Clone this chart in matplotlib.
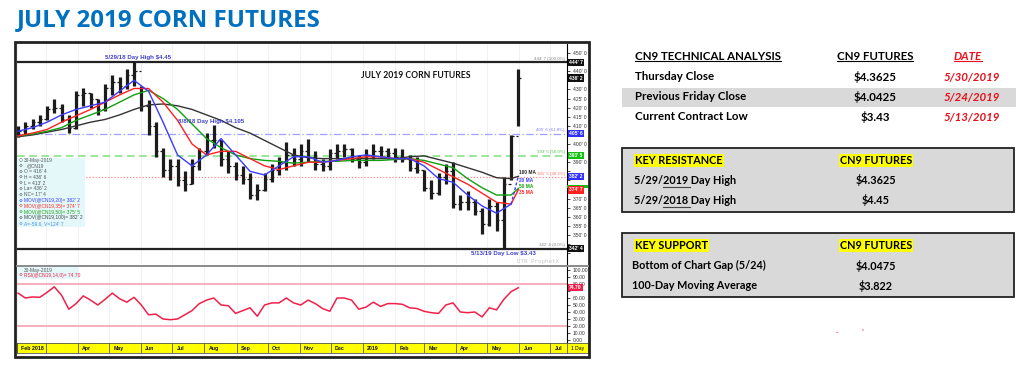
import numpy as np
import pandas as pd
import matplotlib
matplotlib.use("Agg")
import matplotlib.pyplot as plt
import matplotlib.transforms as mtransforms
from matplotlib.patches import Rectangle
from matplotlib.lines import Line2D

W, H = 1024, 366

# ---- data (July 2019 corn, cents/bu, weekly bars) ----
week_end = pd.date_range("2018-02-02", "2019-05-31", freq="W-FRI")

highs = [410, 412, 414, 416, 421, 425, 422, 416, 429, 431,
         428, 425, 433, 438, 437, 441, 445, 432, 424, 412,
         398, 392, 392, 385, 392, 398, 406, 410.5, 402, 396,
         390, 388, 384, 378, 384, 389, 393, 401, 398, 400,
         403, 396, 392, 397, 400, 400, 398, 394, 397, 400,
         399, 398, 398, 397, 394, 393, 386, 380, 384, 389,
         390, 372, 374, 370, 365, 370, 368, 382, 404.75, 441]
lows = [404, 405, 408, 410, 413, 417, 412, 406, 408, 421,
        420, 416, 418, 427, 428, 430, 432, 418, 405, 393,
        382, 380, 377, 374, 378, 386, 394, 398, 388, 384,
        380, 378, 370, 369.5, 374, 379, 383, 386, 388, 388,
        390, 386, 385, 386, 392, 393, 390, 387, 388, 392,
        393, 392, 390, 390, 385, 384, 374, 370, 372, 378,
        365, 364, 364, 361, 350.5, 355, 352, 342.5, 380, 410]
closes = [407, 410, 412, 414, 419, 420, 414, 409, 427, 428,
          425, 419, 431, 434, 432, 438, 440, 421, 410, 396,
          386, 388, 380, 378, 388, 396, 402, 402, 392, 388,
          383, 381, 372, 375, 381, 386, 390, 394, 392, 396,
          393, 389, 388, 395, 396, 397, 392, 390, 394, 396,
          396, 395, 393, 392, 387, 386, 376, 373, 382, 385,
          367, 368, 368, 363, 356, 366, 358, 378, 404.25, 436.25]

# moving averages, read every other week plus the last bar
ma_dates = week_end[::2].append(week_end[-1:])
ma20 = [407, 409, 412, 416, 419, 421, 423, 429, 435, 429, 412, 394, 388, 394, 403, 394,
        385, 383, 388, 393, 393, 390, 391, 393, 394, 393, 392, 392, 388, 381, 379, 372,
        366, 362, 367, 382.25]
ma35 = [404.5, 406, 408, 412, 415.5, 419, 423, 427, 430.5, 430.5, 423, 413, 400, 394, 396,
        396, 392, 388, 386, 388, 390, 390, 391, 392, 393, 393, 392, 392, 390, 386, 382, 378,
        373, 368, 367, 374.875]
ma50 = [404.5, 405.5, 407, 409, 413, 416, 419, 423, 427, 429.5, 425, 419, 411, 403, 398, 394,
        392, 391, 390.5, 389.5, 390, 390.5, 390.5, 391, 391, 391, 391.5, 392, 391, 389, 387,
        381, 376, 372, 372, 375.625]
ma100 = [404, 405, 406.5, 408, 410, 412, 413.5, 416, 419, 421.5, 422, 421, 419, 416, 413, 409,
         406, 402, 398, 394, 392.5, 392, 392, 392, 392, 392, 392, 393, 393.5, 391.5, 389.5,
         387, 384.5, 381.5, 381, 382.25]

rsi = [67, 60, 61.5, 61, 68, 76, 64, 44, 52, 63,
       57, 50, 58, 67, 59, 54, 61, 50, 36, 37,
       30, 29, 30, 36, 42, 52, 57, 60, 50, 49,
       38, 42, 46, 34, 50, 53, 53, 60, 53, 50,
       57, 52, 45, 41, 60, 60, 57, 44, 47, 54,
       48, 52, 52, 51, 46, 45, 41, 39, 38, 50,
       53, 40, 39, 40, 33, 46, 43, 58, 69, 74.7]

fib_levels = [444.875, 405.75, 393.625, 381.625, 342.5]
fib_labels = ["444' 7 (100.0%)", "405' 6 (61.8%)", "393' 5 (50.0%)", "381' 5 (38.2%)", "342' 4 (0.0%)"]

month_starts = pd.date_range("2018-02-01", "2019-07-01", freq="MS")
month_labels = ["Feb 2018", "", "Apr", "May", "Jun", "Jul", "Aug", "Sep", "Oct", "Nov", "Dec",
                "2019", "Feb", "Mar", "Apr", "May", "Jun", "Jul"]

info_lines = ["30-May-2019", "@CN19", "O = 416' 4", "H = 436' 6", "L = 413' 2", "La= 436' 2",
              "NC= 17' 4", "MOV(@CN19,20)= 382' 2", "MOV(@CN19,35)= 374' 7",
              "MOV(@CN19,50)= 375' 5", "MOV(@CN19,100)= 382' 2", "A=-59.6, V=124' 7"]
info_colors = ["#555555", "#555555", "#555555", "#555555", "#555555", "#555555", "#555555",
               "#3b3bff", "#ff2a2a", "#1aa01a", "#444444", "#4a90e2"]

tech_rows = [("Thursday Close", "$4.3625", "5/30/2019"),
             ("Previous Friday Close", "$4.0425", "5/24/2019"),
             ("Current Contract Low", "$3.43", "5/13/2019")]
resist_rows = [("5/29/2019 Day High", "$4.3625"), ("5/29/2018 Day High", "$4.45")]
support_rows = [("Bottom of Chart Gap (5/24)", "$4.0475"), ("100-Day Moving Average", "$3.822")]

# ---- figure ----
fig = plt.figure(figsize=(W / 100, H / 100), dpi=100)
fig.patch.set_facecolor("white")


def rect(x0, y0, x1, y1):
    return [x0 / W, 1 - y1 / H, (x1 - x0) / W, (y1 - y0) / H]


def fx(x):
    return x / W


def fy(y):
    return 1 - y / H


CH = "Liberation Sans"
TB = "Lato"

fig.text(fx(17), fy(20), "JULY 2019 CORN FUTURES", fontsize=17.4, fontweight="bold",
         color="#0070C0", family="Open Sans", va="center")

x0 = pd.Timestamp("2018-02-01")
x1 = x0 + pd.Timedelta(days=531)

# right-hand price boxes (value, label, colour)
boxes = [(444.875, "444' 7", "#111111"), (436.25, "436' 2", "#111111"),
         (405.75, "405' 6", "#3030ff"), (393.625, "393' 5", "#10c010"),
         (382.25, "382' 2", "#3030ff"), (374.875, "374' 7", "#ff2020"),
         (342.5, "342' 4", "#111111")]

# price panel
ax = fig.add_axes(rect(17, 44, 567, 264))
ax.set_xlim(x0, x1)
ax.set_ylim(334.1, 454.95)
for m in month_starts:
    ax.axvline(m, color="#ececec", lw=0.5, zorder=0)
for s in ["left", "top", "bottom"]:
    ax.spines[s].set_visible(False)
ax.spines["right"].set_linewidth(0.8)
ax.set_xticks([])
ax.yaxis.tick_right()
ticks = np.arange(340, 451, 5)
ax.set_yticks(ticks)
tick_txt = []
for v in ticks:
    hidden = any(abs(v - b[0]) < 3.2 for b in boxes)
    tick_txt.append("" if hidden else f"{int(v)}' 0")
ax.set_yticklabels(tick_txt, fontsize=3.6, family=CH, color="#333333")
ax.tick_params(axis="y", length=2, width=0.5, pad=2)

fib_styles = [dict(color="#222222", lw=1.6, ls="-"),
              dict(color="#a0a0ff", lw=0.9, ls=(0, (6, 2, 1, 2))),
              dict(color="#80e080", lw=1.1, ls=(0, (5, 3))),
              dict(color="#ff8a8a", lw=0.9, ls=(0, (1, 1.5))),
              dict(color="#222222", lw=1.6, ls="-")]
fib_text_colors = ["#888888", "#8080ff", "#50c050", "#ff7070", "#888888"]
for lvl, lab, st, tc in zip(fib_levels, fib_labels, fib_styles, fib_text_colors):
    ax.axhline(lvl, zorder=1, **st)
    ax.text(0.996, lvl + 0.8, lab, transform=ax.get_yaxis_transform(), ha="right", va="bottom",
            fontsize=3.2, family=CH, color=tc)

opens = [closes[0]] + closes[:-1]
ax.vlines(week_end, lows, highs, colors="#1c1c1c", lw=2.3, zorder=2)
ax.hlines(closes, week_end, week_end + pd.Timedelta(days=2.5), colors="#1c1c1c", lw=0.9, zorder=2)
ax.hlines(opens, week_end - pd.Timedelta(days=2.5), week_end, colors="#1c1c1c", lw=0.9, zorder=2)

ax.plot(ma_dates, ma100, color="#333333", lw=1.0, zorder=3)
ax.plot(ma_dates, ma50, color="#10a010", lw=1.0, zorder=3)
ax.plot(ma_dates, ma35, color="#ff2020", lw=1.0, zorder=3)
ax.plot(ma_dates[:-1], ma20[:-1], color="#3b3bff", lw=1.0, zorder=3)
ax.plot(ma_dates[-2:], ma20[-2:], color="#3b3bff", lw=1.0, ls=(0, (2, 1.5)), zorder=3)

ma_tags = [("100 MA", "#222222", 172), ("20 MA", "#3b3bff", 180), ("50 MA", "#10a010", 187),
           ("35 MA", "#ff2020", 193)]
for lab, col, ypx in ma_tags:
    fig.text(fx(519), fy(ypx), lab, fontsize=3.4, fontweight="bold", color=col, family=CH,
             va="center")

ann_col = "#4040cc"
fig.text(fx(105), fy(57), "5/29/18 Day High $4.45", fontsize=4.4, fontweight="bold",
         color=ann_col, family=CH, va="center")
fig.text(fx(178), fy(121), "8/8/18 Day High $4.105", fontsize=4.4, fontweight="bold",
         color=ann_col, family=CH, va="center")
fig.text(fx(471), fy(253), "5/13/19 Day Low $3.43", fontsize=4.4, fontweight="bold",
         color=ann_col, family=CH, va="center")
fig.text(fx(416), fy(76), "JULY 2019 CORN FUTURES", fontsize=6.2, fontweight="bold",
         color="#111111", family=TB, va="center", ha="center")
fig.text(fx(538), fy(261), "DTN ProphetX", fontsize=4.2, color="#c8c8c8",
         family="DejaVu Sans Mono", va="center", ha="center")

ytr = mtransforms.blended_transform_factory(ax.transAxes, ax.transData)
# green MA box mostly hidden under the red one
ax.add_patch(Rectangle((1.0, 375.9), 0.038, 1.6, transform=ytr, fc="#10c010", ec="none",
                       clip_on=False, zorder=5))
for val, lab, fc in boxes:
    ax.text(1.004, val, lab, transform=ytr, ha="left", va="center", fontsize=3.6,
            fontweight="bold", color="white", family=CH, clip_on=False, zorder=6,
            bbox=dict(boxstyle="square,pad=0.25", fc=fc, ec="none"))

# info box
fig.add_artist(Rectangle((fx(17), fy(227)), 68 / W, 69 / H, transform=fig.transFigure,
                         fc="#e4f8fa", ec="none", zorder=4))
for i, (line, col) in enumerate(zip(info_lines, info_colors)):
    ypx = 160 + i * 5.8
    icon = "○" if i == 0 else "⚙"
    fig.text(fx(19), fy(ypx), icon, fontsize=3.2, color=col, family="DejaVu Sans",
             va="center", zorder=5)
    fig.text(fx(23.5 if i != 1 else 27), fy(ypx), line, fontsize=3.5, color=col, family=CH,
             va="center", zorder=5)

# separator between panels
fig.add_artist(Line2D([fx(17), fx(588)], [fy(265.5), fy(265.5)], color="#8a8a8a", lw=1.4))

# RSI panel
ar = fig.add_axes(rect(17, 267, 567, 343))
ar.set_xlim(x0, x1)
ar.set_ylim(-4.3, 104.3)
for m in month_starts:
    ar.axvline(m, color="#ececec", lw=0.5, zorder=0)
for s in ["left", "top", "bottom"]:
    ar.spines[s].set_visible(False)
ar.spines["right"].set_linewidth(0.8)
ar.set_xticks([])
ar.yaxis.tick_right()
rt = np.arange(0, 101, 10)
ar.set_yticks(rt)
ar.set_yticklabels(["" if v == 70 else f"{v:.2f}" for v in rt], fontsize=3.6, family=CH,
                   color="#333333")
ar.tick_params(axis="y", length=2, width=0.5, pad=2)
ar.axhline(80, color="#f6a8b8", lw=1.3, zorder=1)
ar.axhline(20, color="#f6a8b8", lw=1.3, zorder=1)
ar.plot(week_end, rsi, color="#f0204a", lw=1.1, zorder=3)
ar.text(1.004, rsi[-1], "74.70", transform=mtransforms.blended_transform_factory(ar.transAxes, ar.transData),
        ha="left", va="center", fontsize=3.6, fontweight="bold", color="white", family=CH,
        clip_on=False, bbox=dict(boxstyle="square,pad=0.25", fc="#f0204a", ec="none"))
fig.add_artist(Rectangle((fx(17), fy(279)), 62 / W, 12 / H, transform=fig.transFigure,
                         fc="#e4f8fa", ec="none", zorder=4))
fig.text(fx(23.5), fy(270.5), "30-May-2019", fontsize=3.5, color="#555555", family=CH,
         va="center", zorder=5)
fig.text(fx(19), fy(275.5), "⚙", fontsize=3.2, color="#f0204a", family="DejaVu Sans",
         va="center", zorder=5)
fig.text(fx(23.5), fy(275.5), "RSI(@CN19,14,0)= 74.70", fontsize=3.5, color="#f0204a",
         family=CH, va="center", zorder=5)

# date strip
ad = fig.add_axes(rect(17, 343, 567, 353))
ad.set_facecolor("#ffff00")
ad.set_xlim(x0, x1)
ad.set_ylim(0, 1)
ad.set_xticks([])
ad.set_yticks([])
for s in ad.spines.values():
    s.set_linewidth(0.6)
    s.set_color("#555555")
for m, lab in zip(month_starts, month_labels):
    ad.axvline(m, color="#555555", lw=0.6)
    ad.text(m + pd.Timedelta(days=4), 0.45, lab, fontsize=3.8, fontweight="bold",
            family=CH, va="center", color="#111111")
aday = fig.add_axes(rect(567, 343, 588, 353))
aday.set_facecolor("#ffff00")
aday.set_xticks([])
aday.set_yticks([])
for s in aday.spines.values():
    s.set_linewidth(0.6)
    s.set_color("#555555")
aday.text(0.5, 0.45, "1 Day", fontsize=3.6, family=CH, ha="center", va="center")

# outer chart frame
fig.add_artist(Rectangle((fx(15), fy(357)), (589 - 15) / W, (357 - 42) / H,
                         transform=fig.transFigure, fill=False, lw=2, ec="#222222"))

# ---- right side tables ----
underlined = []


def ttext(x, y, s, color="black", ha="left", style="normal", size=8.3, ul=False, hl=False):
    kw = {}
    if hl:
        kw["bbox"] = dict(boxstyle="square,pad=0.12", fc="#ffff00", ec="none")
    t = fig.text(fx(x), fy(y), s, ha=ha, va="center", fontsize=size, fontweight="bold",
                 color=color, style=style, family=TB, **kw)
    if ul:
        underlined.append((t, color))
    return t


red = "#e8101a"
ttext(635, 57, "CN9 TECHNICAL ANALYSIS", ul=True)
ttext(875, 57, "CN9 FUTURES", ha="center", ul=True)
ttext(968, 57, "DATE", color=red, ha="center", style="italic", ul=True)
fig.add_artist(Rectangle((fx(622), fy(107)), (1016 - 622) / W, 19 / H,
                         transform=fig.transFigure, fc="#d9d9d9", ec="none", zorder=0))
for i, (lab, val, dt) in enumerate(tech_rows):
    ypx = 77 + i * 20
    ttext(635, ypx, lab)
    ttext(875, ypx, val, ha="center")
    ttext(972, ypx, dt, color=red, ha="center", style="italic")

for top, head, rows in [(148, "KEY RESISTANCE", resist_rows), (233, "KEY SUPPORT", support_rows)]:
    fig.add_artist(Rectangle((fx(622), fy(top + 64)), (1014 - 622) / W, 64 / H,
                             transform=fig.transFigure, fc="#d9d9d9", ec="#222222", lw=1.3,
                             zorder=0))
    ttext(635, top + 12.5, head, size=7.8, ul=True, hl=True)
    ttext(876, top + 12.5, "CN9 FUTURES", size=7.8, ha="center", ul=True, hl=True)
    for i, (lab, val) in enumerate(rows):
        ypx = top + 32.5 + i * 20
        ttext(634 if top == 148 else 632, ypx, lab, size=7.8)
        ttext(876, ypx, val, size=7.8, ha="center")

# underline the year in the resistance rows
for ypx in (187, 207):
    fig.add_artist(Line2D([fx(663), fx(690)], [fy(ypx), fy(ypx)], color="#444444", lw=0.8))

fig.text(fx(837), fy(332), "-", fontsize=5, color=red, ha="center", va="center")
fig.text(fx(862), fy(331), "'", fontsize=5, color=red, ha="center", va="center")

fig.canvas.draw()
rend = fig.canvas.get_renderer()
for t, col in underlined:
    bb = t.get_window_extent(rend)
    yy = bb.y0 + 1.5
    fig.add_artist(Line2D([bb.x0 / W, bb.x1 / W], [yy / H, yy / H], color=col, lw=0.8))

fig.savefig("out.png", dpi=100)
